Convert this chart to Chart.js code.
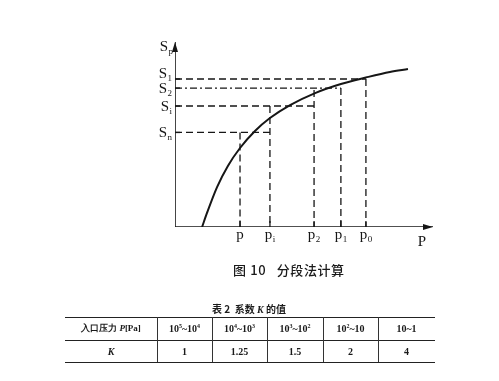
<!DOCTYPE html>
<html>
<head>
<meta charset="utf-8">
<script src="https://cdn.jsdelivr.net/npm/chart.js@4.4.0/dist/chart.umd.min.js"></script>
<style>
  html,body{margin:0;padding:0;background:#fff;}
  #wrap{position:relative;width:499px;height:381px;overflow:hidden;background:#fff;}
  #c{position:absolute;left:0;top:0;}
  .txt{position:absolute;color:#1a1a1a;white-space:nowrap;}
  .cjk{font-family:"Noto Sans CJK SC","Noto Sans",sans-serif;}
  .hl{position:absolute;height:0;border-top:1.3px solid #222;}
  .vl{position:absolute;width:0;border-left:1px solid #333;}
  .cell{position:absolute;text-align:center;font-family:"Liberation Serif","DejaVu Serif",serif;font-size:10px;color:#1a1a1a;font-weight:bold;}
  .cell sup{font-size:6px;vertical-align:4px;line-height:0;}
</style>
</head>
<body>
<div id="wrap">
  <canvas id="c" width="499" height="381"></canvas>
  <div class="txt cjk" id="cap" style="left:233px;top:260px;font-size:13px;font-weight:500;letter-spacing:0.6px;">图 10&nbsp;&nbsp;&nbsp;分段法计算</div>
  <div class="txt cjk" id="ttl" style="left:212px;top:301px;font-size:10px;font-weight:bold;">表 2&nbsp;&nbsp;系数 <i style="font-family:'Liberation Serif',serif;">K</i> 的值</div>
  <div id="tbl"></div>
</div>
<script>
// ---- curve data (arbitrary units 0..100) ----
const curveP = [10.5, 12.4, 16.3, 20.5, 25.2, 31.0, 36.8, 44.6, 54.3, 64.3, 74.0, 83.3, 90.3];
const curveS = [0.0, 7.6, 21.6, 33.0, 42.7, 51.9, 58.9, 65.9, 72.4, 77.3, 80.8, 83.8, 85.4];

// marked pressures and their labels (p, p_i, p_2, p_1, p_0)
const pValues = [25.2, 36.8, 53.9, 64.3, 74.0];
const pLabels = [["p",""],["p","i"],["p","2"],["p","1"],["p","0"]];
// level each vertical dashed line rises to
const pTops   = [51.1, 65.4, 74.1, 75.1, 80.0];

// marked levels and their labels (S_1, S_2, S_i, S_n)
const sValues = [80.0, 75.1, 65.4, 51.1];
const sLabels = [["S","1"],["S","2"],["S","i"],["S","n"]];
// pressure each horizontal dashed line reaches
const sEnds   = [74.0, 64.3, 53.9, 36.8];

// table data
const tableHead = "入口压力 <i>P</i>[Pa]";
const pressureRanges = ["10<sup>5</sup>~10<sup>4</sup>","10<sup>4</sup>~10<sup>3</sup>","10<sup>3</sup>~10<sup>2</sup>","10<sup>2</sup>~10","10~1"];
const kLabel = "<i>K</i>";
const kValues = ["1","1.25","1.5","2","4"];

// ---- datasets ----
const datasets = [];
const ink = '#161616';
datasets.push({data:[{x:0,y:0},{x:100,y:0}], borderColor:ink, borderWidth:1.6, showLine:true, pointRadius:0});
datasets.push({data:[{x:0,y:0},{x:0,y:100}], borderColor:ink, borderWidth:1.6, showLine:true, pointRadius:0});
sValues.forEach((s,i)=>{
  datasets.push({data:[{x:0,y:s},{x:sEnds[i],y:s}], borderColor:ink, borderWidth:1.3, borderDash:i===1?[7,3,2,3]:[7,4], showLine:true, pointRadius:0});
});
pValues.forEach((p,i)=>{
  datasets.push({data:[{x:p,y:pTops[i]},{x:p,y:0}], borderColor:ink, borderWidth:1.3, borderDash:[7,4], showLine:true, pointRadius:0});
});
datasets.push({data:curveP.map((p,i)=>({x:p,y:curveS[i]})), borderColor:ink, borderWidth:2, showLine:true, pointRadius:0, cubicInterpolationMode:'monotone'});

function drawSub(ctx, main, sub, x, y, align){
  ctx.font = '15px "Liberation Serif","DejaVu Serif",serif';
  const wm = ctx.measureText(main).width;
  ctx.font = '9px "Liberation Serif","DejaVu Serif",serif';
  const ws = sub ? ctx.measureText(sub).width + 0.5 : 0;
  let x0 = x;
  if (align === 'right') x0 = x - wm - ws;
  else if (align === 'center') x0 = x - (wm + ws)/2;
  ctx.textAlign = 'left';
  ctx.textBaseline = 'alphabetic';
  ctx.font = '15px "Liberation Serif","DejaVu Serif",serif';
  ctx.fillText(main, x0, y);
  if (sub){
    ctx.font = '9px "Liberation Serif","DejaVu Serif",serif';
    ctx.fillText(sub, x0 + wm + 0.5, y + 3);
  }
}

const labelPlugin = {
  id:'labels',
  afterDatasetsDraw(chart){
    const ctx = chart.ctx, xs = chart.scales.x, ys = chart.scales.y;
    const x0 = xs.getPixelForValue(0), y0 = ys.getPixelForValue(0);
    const xe = xs.getPixelForValue(100), ye = ys.getPixelForValue(100);
    ctx.save();
    ctx.fillStyle = ink;
    // arrowheads
    ctx.beginPath();
    ctx.moveTo(x0, ye); ctx.lineTo(x0-3, ye+10); ctx.lineTo(x0+3, ye+10); ctx.closePath(); ctx.fill();
    ctx.beginPath();
    ctx.moveTo(xe, y0); ctx.lineTo(xe-10, y0-3); ctx.lineTo(xe-10, y0+3); ctx.closePath(); ctx.fill();
    // short solid ticks at levels
    ctx.strokeStyle = ink; ctx.lineWidth = 1.3;
    sValues.forEach(s=>{ const y = ys.getPixelForValue(s); ctx.beginPath(); ctx.moveTo(x0, y); ctx.lineTo(x0+5, y); ctx.stroke(); });
    pValues.forEach(p=>{ const x = xs.getPixelForValue(p); ctx.beginPath(); ctx.moveTo(x, y0); ctx.lineTo(x, y0-6); ctx.stroke(); });
    // level labels
    sValues.forEach((s,i)=>{
      const y = ys.getPixelForValue(s);
      drawSub(ctx, sLabels[i][0], sLabels[i][1], x0-3, y+ (i===0?-1:5), 'right');
    });
    // pressure labels
    pValues.forEach((p,i)=>{
      const x = xs.getPixelForValue(p);
      drawSub(ctx, pLabels[i][0], pLabels[i][1], x, y0+12, 'center');
    });
    // axis titles
    drawSub(ctx, 'S', 'p', x0-2, ye+9, 'right');
    drawSub(ctx, 'P', '', xe-11, y0+19, 'center');
    ctx.restore();
  }
};

new Chart(document.getElementById('c'), {
  type:'scatter',
  data:{datasets},
  options:{
    responsive:false, animation:false,
    layout:{padding:{left:175, right:66, top:42, bottom:154}},
    plugins:{legend:{display:false}, tooltip:{enabled:false}},
    scales:{
      x:{type:'linear', min:0, max:100, display:false},
      y:{type:'linear', min:0, max:100, display:false}
    },
    elements:{line:{borderCapStyle:'butt'}}
  },
  plugins:[labelPlugin]
});

// ---- table ----
const colX = [65, 157, 212, 267, 323, 378, 435];
const rowY = [317, 340, 362];
const tbl = document.getElementById('tbl');
function add(html){ tbl.insertAdjacentHTML('beforeend', html); }
rowY.forEach(y=>add(`<div class="hl" style="left:${colX[0]}px;top:${y}px;width:${colX[colX.length-1]-colX[0]}px;"></div>`));
colX.slice(1,-1).forEach(x=>add(`<div class="vl" style="left:${x}px;top:${rowY[0]}px;height:${rowY[2]-rowY[0]}px;"></div>`));
const rows = [[tableHead].concat(pressureRanges), [kLabel].concat(kValues)];
rows.forEach((r,ri)=>{
  r.forEach((t,ci)=>{
    const cls = (ri===0 && ci===0) ? 'cell cjk' : 'cell';
    const st = (ri===0 && ci===0) ? 'font-size:9px;' : '';
    add(`<div class="${cls}" style="${st}left:${colX[ci]}px;width:${colX[ci+1]-colX[ci]}px;top:${rowY[ri]+5}px;line-height:13px;">${t}</div>`);
  });
});
</script>
</body>
</html>
